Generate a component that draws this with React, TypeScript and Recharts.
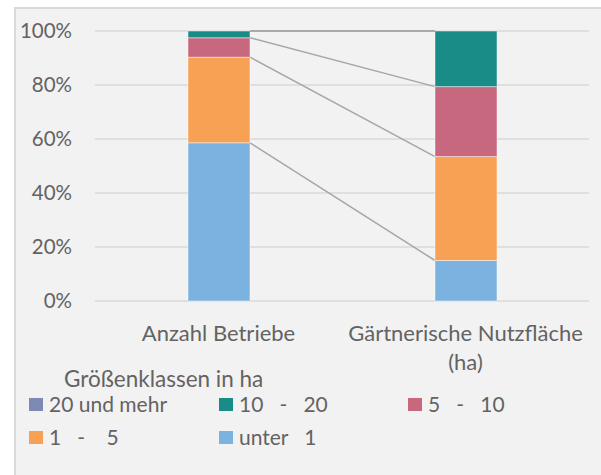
import { BarChart, Bar, XAxis, YAxis, CartesianGrid, usePlotArea } from 'recharts';

const categories = ['Anzahl Betriebe', 'Gärtnerische Nutzfläche\n(ha)'];
const unter1 = [58.6, 15.0];
const eins5 = [31.7, 38.5];
const fuenf10 = [7.2, 25.9];
const zehn20 = [2.5, 20.6];
const zwanzigPlus = [0.0, 0.0];
const yTicks = [0, 20, 40, 60, 80, 100];

const series = [
  { key: 'unter1', name: 'unter   1', values: unter1, color: '#7CB2E0' },
  { key: 'eins5', name: '1   -    5', values: eins5, color: '#F7A154' },
  { key: 'fuenf10', name: '5   -   10', values: fuenf10, color: '#C8687F' },
  { key: 'zehn20', name: '10   -   20', values: zehn20, color: '#1A8C88' },
  { key: 'zwanzigPlus', name: '20 und mehr', values: zwanzigPlus, color: '#7F8AB3' },
];

// legend order as in the original (top-down)
const legendOrder = ['zwanzigPlus', 'zehn20', 'fuenf10', 'eins5', 'unter1'];

const data = categories.map((name, i) => {
  const row: any = { name };
  series.forEach(s => { row[s.key] = s.values[i]; });
  return row;
});

const FONT = 'Lato, "Open Sans", sans-serif';
const TEXT = '#636363';

// cumulative top of a series in a category
const cumTop = (cat: number, idx: number) =>
  series.slice(0, idx + 1).reduce((a, s) => a + s.values[cat], 0);

const Segment = (props: any) => {
  const { x, y, width, height, fill, index, seriesIdx } = props;
  const plot = usePlotArea();
  let connector = null;
  if (index === 0 && plot && index < categories.length - 1) {
    const band = plot.width / categories.length;
    const yOf = (v: number) => plot.y + plot.height * (1 - v / 100);
    connector = (
      <line
        x1={x + width}
        y1={yOf(cumTop(0, seriesIdx))}
        x2={x + band}
        y2={yOf(cumTop(1, seriesIdx))}
        stroke="#A6A6A6"
        strokeWidth={1.5}
      />
    );
  }
  return (
    <g>
      {height > 0 && (
        <rect x={x} y={y} width={width} height={height} fill={fill}
          stroke="rgba(255,255,255,0.45)" strokeWidth={1} />
      )}
      {connector}
    </g>
  );
};

const CatTick = ({ x, y, payload }: any) => {
  const lines = String(payload.value).split('\n');
  return (
    <text x={x} y={y} textAnchor="middle" fill={TEXT} fontSize={22} fontFamily={FONT}>
      {lines.map((l, i) => (
        <tspan key={i} x={x} dy={i === 0 ? '0.71em' : 29}>{l}</tspan>
      ))}
    </text>
  );
};

export default function App() {
  return (
    <div style={{ position: 'absolute', left: 0, top: 0, width: 601, height: 475, background: '#fff', overflow: 'hidden' }}>
      <div style={{
        position: 'absolute', left: 14, top: 7, width: 600, height: 480,
        background: '#F2F2F2', borderTop: '2px solid #D9D9D9', borderLeft: '2px solid #D9D9D9',
      }} />
      <div style={{ position: 'absolute', left: 0, top: 0 }}>
        <BarChart width={601} height={475} data={data}
          margin={{ top: 31, right: 12, bottom: 93, left: 0 }}>
          <CartesianGrid vertical={false} stroke="#D9D9D9" strokeWidth={1.5} />
          <XAxis dataKey="name" axisLine={false} tickLine={false} tickSize={0} tickMargin={24}
            height={81} tick={<CatTick />} interval={0} />
          <YAxis type="number" domain={[0, 100]} ticks={yTicks} width={95}
            axisLine={false} tickLine={false} tickSize={0} tickMargin={23}
            tickFormatter={(v) => `${v}%`}
            tick={{ fill: TEXT, fontSize: 20.5, fontFamily: FONT }} />
          {series.map((s, i) => (
            <Bar key={s.key} dataKey={s.key} name={s.name} stackId="a" fill={s.color}
              barSize={62} isAnimationActive={false}
              shape={(p: any) => <Segment {...p} seriesIdx={i} />} />
          ))}
        </BarChart>
      </div>
      <div style={{ position: 'absolute', left: 64, top: 366, fontFamily: FONT, fontSize: 22.5, color: TEXT, lineHeight: '26px' }}>
        Größenklassen in ha
      </div>
      {legendOrder.map((k, i) => {
        const s = series.find(ss => ss.key === k)!;
        const col = i % 3;
        const row = Math.floor(i / 3);
        return (
          <div key={k} style={{
            position: 'absolute', left: [29, 219, 408][col], top: 391 + row * 33,
            display: 'flex', alignItems: 'center', fontFamily: FONT, fontSize: 21,
            color: TEXT, whiteSpace: 'pre', lineHeight: '26px',
          }}>
            <span style={{ display: 'inline-block', width: 14, height: 13, background: s.color, marginRight: 6 }} />
            {s.name}
          </div>
        );
      })}
    </div>
  );
}
